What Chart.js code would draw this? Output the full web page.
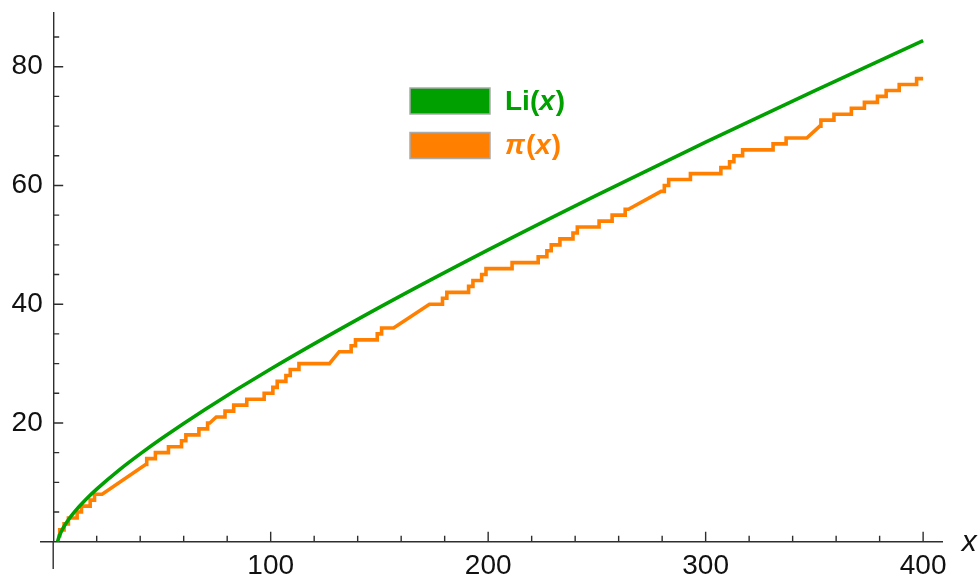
<!DOCTYPE html>
<html><head><meta charset="utf-8">
<style>html,body{margin:0;padding:0;background:#fff;}#wrap{width:980px;height:579px;position:relative;}</style>
<script src="https://cdn.jsdelivr.net/npm/chart.js@4.4.1/dist/chart.umd.min.js"></script>
</head><body><div id="wrap"><canvas id="c" width="980" height="579"></canvas></div>
<script>
const seriesNames = ['Li(x)', 'π(x)'];
// Li(x)
const liX = [2, 2.5, 3, 4, 5, 7, 10, 15, 20, 30, 40, 50, 70, 100, 150, 200, 250, 300, 350, 400];
const liY = [0, 0.62, 1.12, 1.92, 2.59, 3.71, 5.12, 7.11, 8.86, 11.98, 14.79, 17.42, 22.32, 29.08, 39.46, 49.15, 58.38, 67.29, 75.94, 84.38];
// π(x) vertices
const piX = [2,3,3,5,5,7,7,11,11,13,13,17,17,19,19,
  22.5,42.5,43,43,47,47,53,53,59,59,61,61,67,67,71,71,72,75,
  79,79,83,83,89,89,97,97,101,101,103,103,107,107,109,109,113,113,
  127,131.5,137,137,139,139,149,149,151,151,156.5,173,
  179,179,181,181,191,191,193,193,197,197,199,199,211,211,223,223,
  227,227,229,229,233,233,239,239,241,241,251,251,257,257,263,263,264.5,279.5,
  281,281,283,283,293,293,307,307,311,311,313,313,317,317,331,331,337,337,346.5,352.5,
  353,353,359,359,367,367,373,373,379,379,383,383,389,389,397,397,400];
const piY = [1,1,2,2,3,3,4,4,5,5,6,6,7,7,8,
  8,13,13,14,14,15,15,16,16,17,17,18,18,19,19,20,20,21,
  21,22,22,23,23,24,24,25,25,26,26,27,27,28,28,29,29,30,
  30,32,32,33,33,34,34,35,35,36,36,40,
  40,41,41,42,42,43,43,44,44,45,45,46,46,47,47,48,
  48,49,49,50,50,51,51,52,52,53,53,54,54,55,55,56,56,59,
  59,60,60,61,61,62,62,63,63,64,64,65,65,66,66,67,67,68,68,70,
  70,71,71,72,72,73,73,74,74,75,75,76,76,77,77,78,78];
const xMajorTicks = [100, 200, 300, 400];
const xMinorTicks = [20, 40, 60, 80, 120, 140, 160, 180, 220, 240, 260, 280, 320, 340, 360, 380];
const yMajorTicks = [20, 40, 60, 80];
const yMinorTicks = [5, 10, 15, 25, 30, 35, 45, 50, 55, 65, 70, 75, 85];
const axisLabel = 'x';

const GREEN = '#00A000', ORANGE = '#FF8000', AXIS = '#2e2e2e';
const FONT = '"Liberation Sans", Arial, sans-serif';

const decor = {
  id: 'decor',
  afterDraw(chart) {
    const {ctx} = chart; const xs = chart.scales.x, ys = chart.scales.y;
    const x0 = xs.getPixelForValue(0), y0 = ys.getPixelForValue(0);
    ctx.save();
    ctx.strokeStyle = AXIS; ctx.lineWidth = 1.4; ctx.lineCap = 'butt';
    ctx.beginPath();
    // axis extensions beyond origin
    ctx.moveTo(40, y0); ctx.lineTo(x0, y0);
    ctx.moveTo(x0, y0); ctx.lineTo(x0, 569);
    xMajorTicks.forEach(v => { const p = xs.getPixelForValue(v); ctx.moveTo(p, y0); ctx.lineTo(p, y0 - 10); });
    xMinorTicks.forEach(v => { const p = xs.getPixelForValue(v); ctx.moveTo(p, y0); ctx.lineTo(p, y0 - 6); });
    yMajorTicks.forEach(v => { const p = ys.getPixelForValue(v); ctx.moveTo(x0, p); ctx.lineTo(x0 + 10, p); });
    yMinorTicks.forEach(v => { const p = ys.getPixelForValue(v); ctx.moveTo(x0, p); ctx.lineTo(x0 + 6, p); });
    ctx.stroke();
    // axis label
    ctx.fillStyle = '#111';
    ctx.font = 'italic 30px ' + FONT;
    ctx.textBaseline = 'alphabetic'; ctx.textAlign = 'left';
    ctx.fillText(axisLabel, xs.right + 19, y0 + 9);
    // legend
    const box = {left: 410, top: 88, w: 80, h: 26, step: 44.5, textX: 505};
    chart.data.datasets.forEach((ds, i) => {
      const top = box.top + i * box.step;
      ctx.fillStyle = ds.borderColor;
      ctx.fillRect(box.left, top, box.w, box.h);
      ctx.strokeStyle = '#aaaaaa'; ctx.lineWidth = 1.5;
      ctx.strokeRect(box.left, top, box.w, box.h);
      let tx = box.textX; const ty = top + box.h / 2 + 1;
      ctx.textBaseline = 'middle';
      for (const ch of ds.label) {
        const it = (ch === 'x' || ch === 'π');
        ctx.font = (it ? 'italic ' : '') + 'bold 28px ' + FONT;
        ctx.fillText(ch, tx, ty);
        tx += ctx.measureText(ch).width + (it ? 1 : 0);
      }
    });
    ctx.restore();
  }
};

new Chart(document.getElementById('c'), {
  type: 'line',
  data: {
    datasets: [
      {label: seriesNames[0], data: liX.map((x, i) => ({x, y: liY[i]})), borderColor: GREEN, backgroundColor: GREEN,
       borderWidth: 3.6, pointRadius: 0, cubicInterpolationMode: 'monotone', clip: 8},
      {label: seriesNames[1], data: piX.map((x, i) => ({x, y: piY[i]})), borderColor: ORANGE, backgroundColor: ORANGE,
       borderWidth: 3.6, pointRadius: 0, tension: 0, clip: 8, borderJoinStyle: 'miter'}
    ]
  },
  options: {
    responsive: false, animation: false, devicePixelRatio: 1,
    layout: {padding: {left: 0, top: 12.7, right: 37.3, bottom: 0}},
    plugins: {legend: {display: false}, tooltip: {enabled: false}},
    scales: {
      x: {type: 'linear', position: 'bottom', min: 0, max: 409,
          afterBuildTicks: s => { s.ticks = xMajorTicks.map(v => ({value: v})); },
          afterFit: s => { s.height = 37.3; s.paddingLeft = 0; s.paddingRight = 0; },
          grid: {display: true, drawOnChartArea: false, drawTicks: false},
          border: {display: true, color: AXIS, width: 1.4},
          ticks: {font: {family: FONT, size: 28}, color: '#111', padding: 8, maxRotation: 0, autoSkip: false}},
      y: {type: 'linear', position: 'left', min: 0, max: 89.1,
          afterBuildTicks: s => { s.ticks = yMajorTicks.map(v => ({value: v})); },
          afterFit: s => { s.width = 53.2; s.paddingTop = 0; s.paddingBottom = 0; },
          grid: {display: true, drawOnChartArea: false, drawTicks: false},
          border: {display: true, color: AXIS, width: 1.4},
          ticks: {font: {family: FONT, size: 28}, color: '#111', padding: 10.5, autoSkip: false}}
    }
  },
  plugins: [decor]
});
</script></body></html>
